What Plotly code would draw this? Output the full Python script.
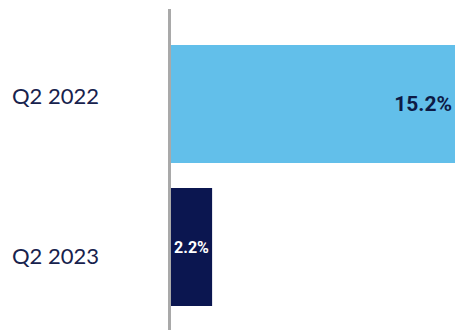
import plotly.graph_objects as go

# Quarterly values (percent)
quarters = ["Q2 2022", "Q2 2023"]
values = [15.2, 2.2]
value_labels = ["15.2%", "2.2%"]

bar_colors = ["#62bfea", "#0b1650"]
label_colors = ["#0d1a45", "#ffffff"]
label_sizes = [21, 16]

fig = go.Figure(
    go.Bar(
        x=values,
        y=quarters,
        orientation="h",
        width=0.825,
        marker=dict(color=bar_colors, line=dict(width=0)),
        text=value_labels,
        textposition="inside",
        insidetextanchor="end",
        textangle=0,
        constraintext="none",
        textfont=dict(
            family="Roboto, sans-serif",
            size=label_sizes,
            color=label_colors,
            weight="bold",
        ),
        hoverinfo="skip",
    )
)

# Category names placed left of the axis line
label_shift = [8, -8]
for q, dy in zip(quarters, label_shift):
    fig.add_annotation(
        x=0, xref="paper", y=q, yref="y",
        text=q, showarrow=False,
        xanchor="right", xshift=-70, yshift=dy,
        font=dict(family="Lato, sans-serif", size=22, color="#17224d"),
    )

fig.update_layout(
    width=455,
    height=330,
    margin=dict(l=171, r=0, t=9, b=0),
    paper_bgcolor="white",
    plot_bgcolor="white",
    showlegend=False,
    xaxis=dict(range=[0, 15.2], visible=False, fixedrange=True),
    yaxis=dict(
        type="category",
        range=[1.58, -0.664],
        showline=True,
        linecolor="#a9a9a9",
        linewidth=3,
        showticklabels=False,
        showgrid=False,
        zeroline=False,
        ticks="",
    ),
)

fig.write_html("out.html")
